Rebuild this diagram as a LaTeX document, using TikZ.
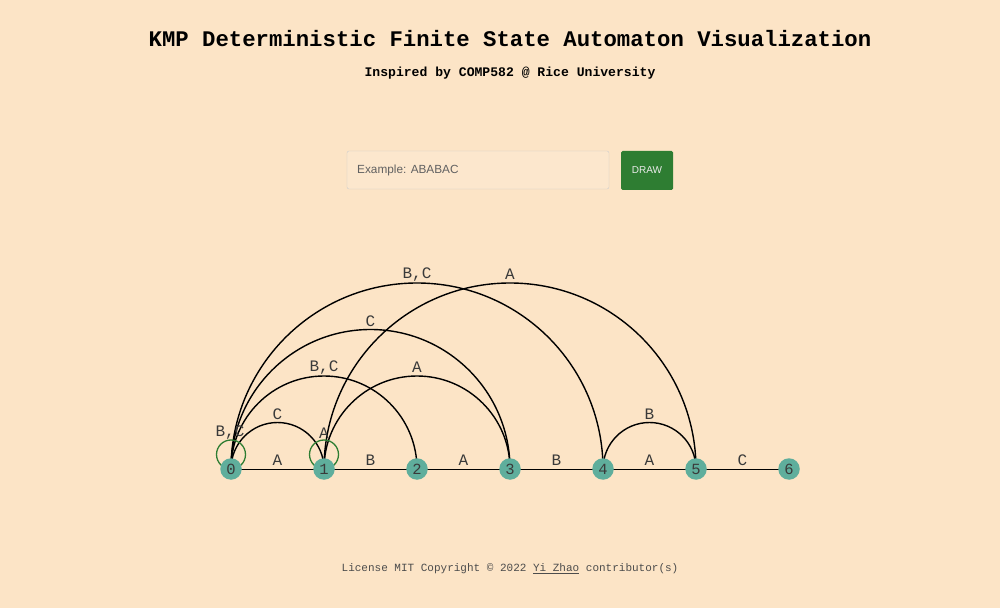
\documentclass[tikz,border=0pt]{standalone}
\usepackage{fontspec}
\setmainfont{Liberation Serif}
\newfontfamily\monof{Liberation Mono}
\newfontfamily\sansf{Liberation Sans}
\usetikzlibrary{calc}
\definecolor{bgc}{HTML}{FCE4C6}
\definecolor{nodec}{HTML}{5FAE9C}
\definecolor{loopg}{HTML}{2E7D32}
\definecolor{btng}{HTML}{2E7D32}
\definecolor{txtc}{HTML}{3A3A3A}
\tikzset{
  state/.style={circle,fill=nodec,minimum size=21.5pt,inner sep=0pt,text=txtc,font=\monof\fontsize{15.5}{15.5}\selectfont},
  elabel/.style={text=txtc,font=\monof\fontsize{16}{16}\selectfont,inner sep=0pt},
  arcline/.style={draw=black,line width=1.4pt},
  baseline/.style={draw=black,line width=1pt},
  loopc/.style={draw=loopg,line width=1.3pt},
}
\begin{document}
\begin{tikzpicture}[x=1pt,y=1pt]
\useasboundingbox (0,0) rectangle (1000,608);
\fill[bgc] (0,0) rectangle (1000,608);
% title
\node (title) at (510,569) {\monof\bfseries\fontsize{22.3}{28}\selectfont KMP Deterministic Finite State Automaton Visualization};
\node (sub) at (510,535) {\monof\bfseries\fontsize{13.1}{16}\selectfont Inspired by COMP582 @ Rice University};
% input box and button
\node[draw=black!20,fill=bgc!88!white,rounded corners=2pt,minimum width=262pt,minimum height=38pt,inner sep=0pt] (inbox) at (478,438) {};
\node[anchor=west,text=black!62,font=\sansf\fontsize{11.8}{12}\selectfont,inner sep=0pt] (ph) at (357,438) {Example: ABABAC};
\node[fill=btng,rounded corners=1.5pt,minimum width=52pt,minimum height=39pt,inner sep=0pt,text=white!92!black,font=\sansf\fontsize{10}{10}\selectfont] (btn) at (647,437.5) {DRAW};
% states
\foreach \i in {0,...,6} {
  \coordinate (c\i) at (231+93*\i,139);
}
% base line
\draw[baseline] (c0) -- (c6);
% arcs
\foreach \a/\b in {0/1,0/2,0/3,0/4,1/3,1/5,4/5} {
  \draw[arcline] let \p1=(c\a), \p2=(c\b) in (\p1) arc[start angle=180,end angle=0,radius={(\x2-\x1)/2}];
}
% self loops
\draw[loopc] ([yshift=14.5pt]c0) circle[radius=14.5pt];
\draw[loopc] ([yshift=14.5pt]c1) circle[radius=14.5pt];
% nodes
\foreach \i in {0,...,6} {
  \node[state] (s\i) at (c\i) {\i};
}
% bottom labels
\node[elabel] (l01) at (277.5,148) {A};
\node[elabel] (l12) at (370.5,148) {B};
\node[elabel] (l23) at (463.5,148) {A};
\node[elabel] (l34) at (556.5,148) {B};
\node[elabel] (l45) at (649.5,148) {A};
\node[elabel] (l56) at (742.5,148) {C};
% arc labels
\node[elabel] (a01) at (277.5,194) {C};
\node[elabel] (a02) at (324,240.5) {B,C};
\node[elabel] (a13) at (417,240.5) {A};
\node[elabel] (a03) at (370.5,287) {C};
\node[elabel] (a04) at (417,333.5) {B,C};
\node[elabel] (a15) at (510,333.5) {A};
\node[elabel] (a45) at (649.5,194) {B};
% loop labels
\node[elabel] (lp0) at (230,175) {B,C};
\node[elabel] (lp1) at (324,175) {A};
% footer
\node[text=black!70,font=\monof\fontsize{11}{12}\selectfont] (foot) at (510,39) {License MIT Copyright © 2022 \underline{Yi Zhao} contributor(s)};
\end{tikzpicture}
\end{document}
